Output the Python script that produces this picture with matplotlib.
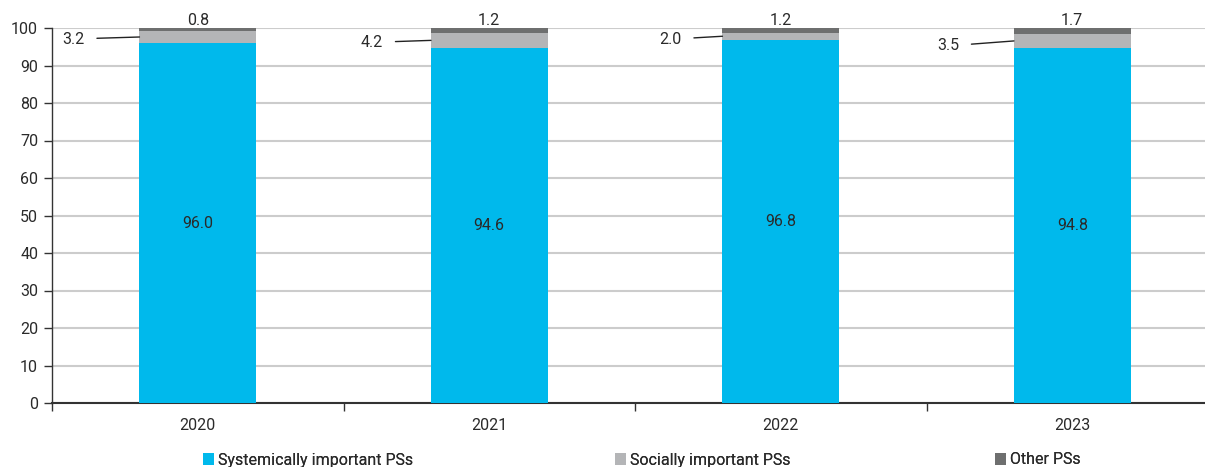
import matplotlib
matplotlib.use("Agg")
import matplotlib.pyplot as plt
import numpy as np

years = ["2020", "2021", "2022", "2023"]
systemic = [96.0, 94.6, 96.8, 94.8]
social = [3.2, 4.2, 2.0, 3.5]
other = [0.8, 1.2, 1.2, 1.7]
series_names = ["Systemically important PSs", "Socially important PSs", "Other PSs"]
yticks = list(range(0, 101, 10))

plt.rcParams["font.family"] = ["Roboto", "DejaVu Sans"]
fs = 11.5
text_col = "#2A2A2A"
c_sys, c_soc, c_oth = "#00B9EC", "#B4B5B7", "#6E6F6F"

W, H = 1205, 467
fig = plt.figure(figsize=(W / 100, H / 100), dpi=100)
ax = fig.add_axes([52 / W, (H - 403) / H, 1166 / W, 375 / H])

x = np.arange(len(years))
bw = 0.4
b1 = ax.bar(x, systemic, bw, color=c_sys, label=series_names[0], zorder=3)
b2 = ax.bar(x, social, bw, bottom=systemic, color=c_soc, label=series_names[1], zorder=3)
tops = np.array(systemic) + np.array(social)
b3 = ax.bar(x, other, bw, bottom=tops, color=c_oth, label=series_names[2], zorder=3)

ax.set_xlim(-0.5, 3.5)
ax.set_ylim(0, 100)
ax.set_yticks(yticks)
ax.set_yticklabels([str(t) for t in yticks], fontsize=fs, color=text_col)
ax.set_xticks(x)
ax.set_xticklabels(years, fontsize=fs, color=text_col)
ax.tick_params(axis="x", length=0, pad=11)
ax.set_xticks(np.arange(-0.5, 3.6, 1.0), minor=True)
ax.tick_params(axis="x", which="minor", length=6, width=1, color="#333333", direction="out")
ax.tick_params(axis="y", length=6, width=1, color="#333333", pad=4)

ax.grid(axis="y", color="#CCCCCC", linewidth=1.5, zorder=0)
for s in ["top", "right"]:
    ax.spines[s].set_visible(False)
ax.spines["left"].set_color("#333333")
ax.spines["bottom"].set_color("#333333")
ax.spines["left"].set_linewidth(1)
ax.spines["bottom"].set_linewidth(1.5)

# values inside the main segment
for xi, v in zip(x, systemic):
    ax.text(xi, v / 2, f"{v:.1f}", ha="center", va="center", fontsize=fs, color=text_col, zorder=4)

# values for the small top segment
for xi, t, v in zip(x, tops, other):
    ax.annotate(f"{v:.1f}", (xi, t + v), xytext=(0, 0), textcoords="offset points",
                ha="center", va="bottom", fontsize=fs, color=text_col)

# leader-line labels for the middle segment
label_dx = [-55, -48, -41, -55]
label_dy = [-2, -2, -3, -5]
for xi, base, v, dx, dy in zip(x, systemic, social, label_dx, label_dy):
    ax.annotate(f"{v:.1f}", (xi - bw / 2, base + v / 2), xytext=(dx, dy),
                textcoords="offset pixels", ha="right", va="center",
                fontsize=fs, color=text_col,
                arrowprops=dict(arrowstyle="-", color="#222222", lw=1,
                                shrinkA=7, shrinkB=0))

# one legend entry per column, placed along the bottom
for handle, name, xpos in zip([b1, b2, b3], series_names, [203, 615, 995]):
    leg = fig.legend(handles=[handle], labels=[name], loc="center left",
                     bbox_to_anchor=(xpos / W, (H - 460) / H), frameon=False,
                     fontsize=fs, handlelength=0.7, handleheight=0.7,
                     handletextpad=0.25, labelcolor=text_col, borderpad=0,
                     borderaxespad=0)
    fig.add_artist(leg)

fig.savefig("out.png", dpi=100)
